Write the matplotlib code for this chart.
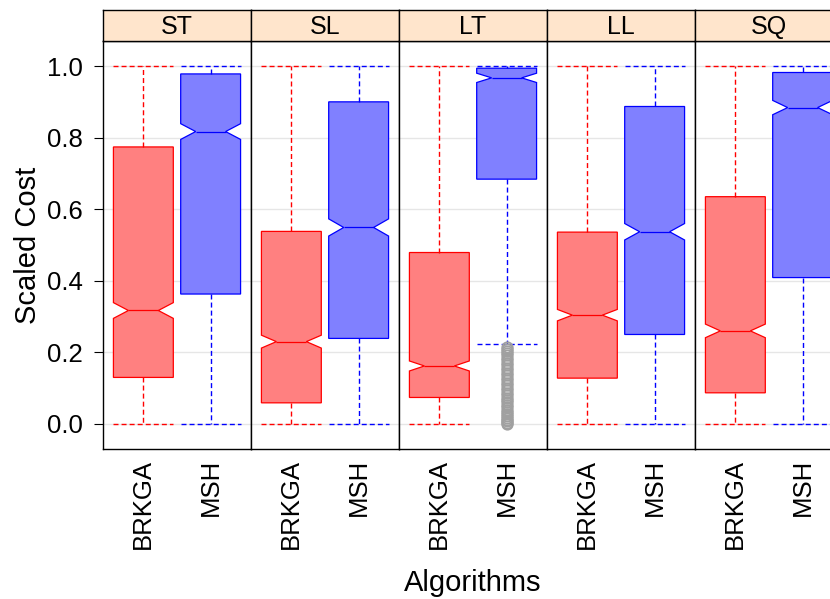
import numpy as np
import matplotlib
matplotlib.use("Agg")
import matplotlib.pyplot as plt

plt.rcParams['font.family'] = ['Liberation Sans', 'DejaVu Sans']
plt.rcParams['lines.scale_dashes'] = False

# data (scaled cost, five-number summaries + notch half-height)
panels = ['ST', 'SL', 'LT', 'LL', 'SQ']
algorithms = ['BRKGA', 'MSH']

brkga_lo = [0.0, 0.0, 0.0, 0.0, 0.0]
brkga_q1 = [0.130, 0.059, 0.074, 0.128, 0.087]
brkga_med = [0.317, 0.230, 0.162, 0.304, 0.260]
brkga_q3 = [0.774, 0.538, 0.479, 0.536, 0.635]
brkga_hi = [1.0, 1.0, 1.0, 1.0, 1.0]
brkga_notch = [0.022, 0.018, 0.014, 0.016, 0.019]

msh_lo = [0.0, 0.0, 0.223, 0.0, 0.0]
msh_q1 = [0.363, 0.239, 0.684, 0.250, 0.409]
msh_med = [0.817, 0.549, 0.967, 0.537, 0.884]
msh_q3 = [0.978, 0.900, 0.994, 0.887, 0.982]
msh_hi = [1.0, 1.0, 1.0, 1.0, 1.0]
msh_notch = [0.022, 0.024, 0.013, 0.023, 0.020]

# outliers of MSH in the LT panel
msh_lt_outliers = [0.0, 0.004, 0.008, 0.012, 0.017, 0.022, 0.028, 0.034, 0.040,
                   0.047, 0.053, 0.060, 0.066, 0.073, 0.080, 0.087, 0.094, 0.101,
                   0.108, 0.115, 0.122, 0.129, 0.136, 0.143, 0.150, 0.157, 0.164,
                   0.171, 0.178, 0.185, 0.192, 0.199, 0.205, 0.210, 0.215]

yticks = [0.0, 0.2, 0.4, 0.6, 0.8, 1.0]

W, H = 830, 599
fig = plt.figure(figsize=(W / 100, H / 100), dpi=100)

left0, pw = 103, 148
ptop, pbot = 41, 449
stop = 10

styles = {
    'BRKGA': dict(edge='#FF0000', fill='#FF8080'),
    'MSH': dict(edge='#0000FF', fill='#8080FF'),
}
dash = (0, (3.6, 2.2))

for i, name in enumerate(panels):
    x0 = left0 + pw * i
    ax = fig.add_axes([x0 / W, (H - pbot) / H, pw / W, (pbot - ptop) / H])
    for y in yticks:
        ax.axhline(y, color='#E6E6E6', lw=1.0, zorder=0)

    stats = [
        dict(whislo=brkga_lo[i], q1=brkga_q1[i], med=brkga_med[i], q3=brkga_q3[i],
             whishi=brkga_hi[i], cilo=brkga_med[i] - brkga_notch[i],
             cihi=brkga_med[i] + brkga_notch[i], fliers=[]),
        dict(whislo=msh_lo[i], q1=msh_q1[i], med=msh_med[i], q3=msh_q3[i],
             whishi=msh_hi[i], cilo=msh_med[i] - msh_notch[i],
             cihi=msh_med[i] + msh_notch[i],
             fliers=msh_lt_outliers if name == 'LT' else []),
    ]
    for pos, (alg, st) in enumerate(zip(algorithms, stats), start=1):
        c = styles[alg]
        ax.bxp([st], positions=[pos], widths=0.89, capwidths=0.89,
               shownotches=True, patch_artist=True,
               boxprops=dict(facecolor=c['fill'], edgecolor=c['edge'], lw=0.9),
               medianprops=dict(color=c['edge'], lw=0.9),
               whiskerprops=dict(color=c['edge'], lw=1.0, linestyle=dash),
               capprops=dict(color=c['edge'], lw=1.0, linestyle=dash),
               flierprops=dict(marker='o', markerfacecolor='none',
                               markeredgecolor='#A0A0A0', markersize=7.5, mew=1.3),
               manage_ticks=False)

    ax.set_xlim(0.4, 2.6)
    ax.set_ylim(-0.07, 1.07)
    ax.set_xticks([1, 2])
    ax.set_xticklabels(algorithms, rotation=90, fontsize=18.5, va='top')
    ax.tick_params(axis='x', length=0, pad=7)
    if i == 0:
        ax.set_yticks(yticks)
        ax.set_yticklabels(['%.1f' % v for v in yticks], fontsize=18.5)
        ax.tick_params(axis='y', length=6.5, width=0.8, pad=8)
    else:
        ax.set_yticks([])
    for s in ax.spines.values():
        s.set_linewidth(1.0)

    sax = fig.add_axes([x0 / W, (H - ptop) / H, pw / W, (ptop - stop) / H])
    sax.set_facecolor('#FFE5CC')
    sax.set_xticks([])
    sax.set_yticks([])
    for s in sax.spines.values():
        s.set_linewidth(1.0)
    sax.text(0.5, 0.45, name, transform=sax.transAxes, ha='center', va='center',
             fontsize=18)

fig.text(28 / W, 1 - 245 / H, 'Scaled Cost', rotation=90, ha='center',
         va='center', fontsize=21)
fig.text(473 / W, 1 - 583 / H, 'Algorithms', ha='center', va='center', fontsize=21)

fig.savefig('out.png', dpi=100)
